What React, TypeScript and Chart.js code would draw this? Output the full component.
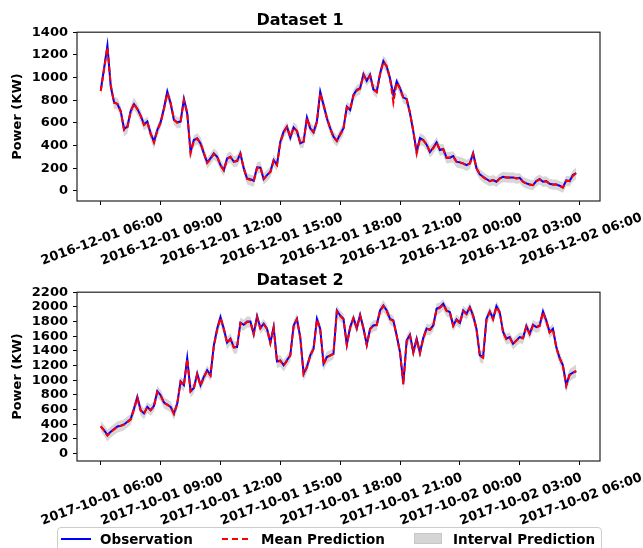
import React, { useEffect, useRef } from "react";
import { Chart, registerables } from "chart.js";

Chart.register(...registerables);

const FONT = "'DejaVu Sans', 'Liberation Sans', sans-serif";

// 10-minute steps, hours counted from 00:00 of the first day
const times = Array.from({ length: 144 }, (_, i) => 6 + i / 6);

const tickHours = [6, 9, 12, 15, 18, 21, 24, 27, 30];
const tickLabels1 = [
  "2016-12-01 06:00", "2016-12-01 09:00", "2016-12-01 12:00", "2016-12-01 15:00",
  "2016-12-01 18:00", "2016-12-01 21:00", "2016-12-02 00:00", "2016-12-02 03:00",
  "2016-12-02 06:00",
];
const tickLabels2 = [
  "2017-10-01 06:00", "2017-10-01 09:00", "2017-10-01 12:00", "2017-10-01 15:00",
  "2017-10-01 18:00", "2017-10-01 21:00", "2017-10-02 00:00", "2017-10-02 03:00",
  "2017-10-02 06:00",
];

const obs1 = [
  891, 1083, 1283, 920, 782, 764, 705, 546, 566, 705,
  764, 723, 664, 587, 611, 507, 434, 537, 605, 729,
  876, 773, 625, 605, 611, 811, 684, 345, 448, 463,
  419, 330, 251, 286, 330, 301, 227, 183, 286, 301,
  257, 263, 330, 198, 109, 103, 89, 208, 205, 103,
  139, 168, 271, 230, 434, 522, 566, 469, 560, 528,
  419, 434, 646, 552, 516, 611, 876, 758, 640, 552,
  478, 440, 499, 552, 743, 714, 847, 891, 906, 1030,
  971, 1024, 894, 876, 1036, 1146, 1096, 994, 847, 965,
  906, 823, 811, 684, 522, 345, 466, 449, 407, 342,
  381, 428, 360, 369, 292, 292, 307, 257, 251, 242,
  227, 242, 331, 198, 145, 124, 104, 86, 95, 80,
  110, 124, 118, 118, 118, 110, 115, 80, 65, 56,
  50, 86, 104, 80, 86, 62, 56, 56, 45, 30,
  92, 86, 139, 157,
];
const pred1 = [
  880, 1075, 1265, 935, 775, 770, 700, 535, 560, 700,
  770, 720, 660, 580, 605, 500, 425, 530, 600, 720,
  860, 780, 630, 600, 605, 800, 690, 330, 440, 460,
  425, 335, 245, 280, 325, 300, 225, 180, 280, 300,
  255, 265, 325, 200, 105, 95, 85, 200, 210, 105,
  135, 165, 265, 225, 425, 515, 560, 475, 555, 530,
  425, 430, 640, 555, 520, 605, 860, 760, 645, 550,
  475, 440, 495, 545, 735, 715, 840, 885, 900, 1020,
  975, 1015, 900, 870, 1030, 1140, 1100, 990, 780, 955,
  900, 820, 805, 690, 530, 330, 455, 445, 410, 345,
  375, 425, 360, 365, 290, 295, 300, 255, 250, 240,
  225, 240, 325, 200, 145, 120, 100, 85, 95, 78,
  108, 120, 118, 116, 118, 108, 112, 78, 65, 55,
  50, 84, 100, 78, 84, 60, 55, 55, 42, 28,
  88, 84, 132, 155,
];
const halfWidth1 = [
  60, 65, 70, 65, 55, 50, 50, 55, 55, 50,
  55, 50, 50, 50, 50, 50, 55, 50, 50, 50,
  55, 50, 50, 50, 50, 55, 55, 55, 50, 50,
  50, 50, 50, 50, 50, 50, 50, 50, 50, 50,
  50, 50, 50, 50, 50, 50, 50, 50, 50, 50,
  50, 50, 50, 50, 50, 50, 50, 50, 50, 50,
  50, 50, 50, 50, 50, 50, 55, 50, 50, 50,
  50, 50, 50, 50, 50, 50, 50, 50, 50, 50,
  50, 50, 50, 50, 50, 55, 55, 50, 55, 50,
  50, 50, 50, 50, 55, 60, 55, 50, 50, 50,
  50, 50, 50, 50, 50, 50, 50, 50, 50, 50,
  50, 50, 50, 50, 45, 45, 45, 45, 45, 45,
  45, 45, 45, 45, 45, 45, 45, 45, 45, 45,
  45, 45, 45, 45, 45, 45, 45, 45, 45, 45,
  45, 45, 50, 50,
];

const obs2 = [
  367, 321, 254, 299, 335, 371, 380, 398, 435, 471,
  616, 774, 593, 548, 638, 593, 652, 851, 797, 697,
  670, 638, 548, 684, 987, 933, 1304, 851, 896, 1091,
  933, 1046, 1136, 1068, 1476, 1702, 1861, 1702, 1512, 1566,
  1453, 1453, 1784, 1756, 1802, 1800, 1634, 1874, 1711, 1770,
  1702, 1512, 1725, 1258, 1272, 1204, 1272, 1340, 1747, 1838,
  1589, 1091, 1182, 1340, 1430, 1838, 1702, 1227, 1317, 1340,
  1363, 1951, 1883, 1838, 1485, 1725, 1847, 1711, 1892, 1711,
  1485, 1702, 1747, 1756, 1951, 2019, 1951, 1838, 1815, 1612,
  1385, 955, 1544, 1621, 1385, 1566, 1375, 1578, 1706, 1690,
  1747, 1974, 1996, 2042, 1951, 1928, 1747, 1829, 1784, 1951,
  1906, 1996, 1883, 1702, 1340, 1317, 1838, 1938, 1838, 2010,
  1928, 1657, 1566, 1589, 1498, 1544, 1589, 1575, 1738, 1634,
  1756, 1725, 1747, 1938, 1815, 1657, 1702, 1453, 1304, 1204,
  933, 1077, 1105, 1123,
];
const pred2 = [
  375, 315, 245, 295, 330, 365, 378, 395, 430, 465,
  605, 760, 590, 545, 630, 590, 645, 840, 795, 690,
  665, 635, 540, 675, 975, 925, 1290, 845, 890, 1080,
  925, 1040, 1125, 1060, 1460, 1690, 1850, 1700, 1505, 1560,
  1445, 1450, 1775, 1750, 1795, 1795, 1625, 1860, 1705, 1760,
  1700, 1505, 1720, 1250, 1265, 1200, 1265, 1335, 1735, 1830,
  1580, 1080, 1175, 1335, 1425, 1825, 1700, 1215, 1310, 1335,
  1360, 1940, 1875, 1830, 1480, 1715, 1840, 1705, 1880, 1705,
  1480, 1695, 1740, 1750, 1940, 2010, 1945, 1830, 1805, 1605,
  1375, 945, 1530, 1610, 1375, 1555, 1370, 1570, 1700, 1685,
  1740, 1965, 1985, 2030, 1945, 1920, 1740, 1820, 1775, 1940,
  1900, 1985, 1875, 1695, 1330, 1305, 1825, 1930, 1830, 2000,
  1920, 1650, 1560, 1580, 1490, 1540, 1580, 1570, 1730, 1630,
  1745, 1720, 1740, 1925, 1805, 1650, 1695, 1445, 1300, 1195,
  925, 1070, 1100, 1130,
];
const halfWidth2 = [
  70, 75, 80, 75, 75, 75, 75, 75, 75, 75,
  80, 80, 75, 75, 75, 75, 75, 80, 75, 75,
  75, 75, 80, 75, 80, 80, 85, 80, 75, 75,
  75, 75, 75, 75, 80, 80, 85, 80, 85, 80,
  85, 85, 80, 75, 75, 75, 80, 80, 75, 75,
  75, 80, 75, 85, 80, 80, 75, 75, 80, 80,
  80, 85, 80, 75, 75, 80, 80, 85, 80, 75,
  75, 80, 75, 75, 80, 75, 75, 75, 75, 75,
  80, 75, 75, 75, 80, 80, 75, 75, 75, 75,
  80, 95, 85, 80, 80, 80, 80, 75, 75, 75,
  75, 80, 75, 75, 75, 75, 75, 75, 75, 75,
  75, 75, 75, 80, 85, 85, 80, 75, 75, 75,
  75, 75, 75, 75, 75, 75, 75, 75, 75, 75,
  75, 75, 75, 80, 75, 75, 75, 80, 80, 80,
  95, 85, 85, 85,
];

const frameBox = {
  id: "frameBox",
  afterDraw(chart: any) {
    const { ctx, chartArea } = chart;
    ctx.save();
    ctx.strokeStyle = "#222";
    ctx.lineWidth = 1.2;
    ctx.strokeRect(chartArea.left, chartArea.top, chartArea.right - chartArea.left, chartArea.bottom - chartArea.top);
    ctx.restore();
  },
};

type PowerChartProps = {
  title: string;
  obs: number[];
  pred: number[];
  halfWidth: number[];
  yMin: number;
  yMax: number;
  tickLabels: string[];
  top: number;
};

function PowerChart({ title, obs, pred, halfWidth, yMin, yMax, tickLabels, top }: PowerChartProps) {
  const ref = useRef<HTMLCanvasElement | null>(null);
  useEffect(() => {
    if (!ref.current) return;
    const first = times[0];
    const last = times[times.length - 1];
    const span = last - first;
    const xMin = first - span * 0.05;
    const xMax = last + span * 0.05;
    const pts = (arr: number[]) => arr.map((v, i) => ({ x: times[i], y: v }));
    const upper = pred.map((v, i) => ({ x: times[i], y: v + halfWidth[i] }));
    const lower = pred.map((v, i) => ({ x: times[i], y: v - halfWidth[i] }));
    const tickFont = { family: FONT, size: 13, weight: "bold" as const };
    const chart = new Chart(ref.current, {
      type: "line",
      data: {
        datasets: [
          {
            label: "Mean Prediction",
            data: pts(pred),
            borderColor: "#ff0000",
            borderWidth: 2,
            borderDash: [6, 3],
            pointRadius: 0,
            fill: false,
            tension: 0,
          },
          {
            label: "Observation",
            data: pts(obs),
            borderColor: "#0000ff",
            borderWidth: 2,
            pointRadius: 0,
            fill: false,
            tension: 0,
          },
          {
            label: "Interval upper",
            data: upper,
            borderWidth: 0,
            borderColor: "rgba(0,0,0,0)",
            backgroundColor: "rgba(128,128,128,0.32)",
            pointRadius: 0,
            fill: "+1",
            tension: 0,
          },
          {
            label: "Interval lower",
            data: lower,
            borderWidth: 0,
            borderColor: "rgba(0,0,0,0)",
            pointRadius: 0,
            fill: false,
            tension: 0,
          },
        ],
      },
      options: {
        animation: false,
        responsive: false,
        devicePixelRatio: 1,
        events: [],
        layout: { padding: { left: 0, right: 43, top: 0, bottom: 0 } },
        plugins: {
          legend: { display: false },
          tooltip: { enabled: false },
          title: {
            display: true,
            text: title,
            color: "#000",
            font: { family: FONT, size: 16, weight: "bold" },
            padding: { top: 11, bottom: 2 },
          },
        },
        scales: {
          x: {
            type: "linear",
            min: xMin,
            max: xMax,
            border: { display: false },
            grid: { drawOnChartArea: false, drawTicks: true, tickLength: 4, color: "#000", lineWidth: 1 },
            ticks: {
              stepSize: 3,
              autoSkip: false,
              includeBounds: false,
              minRotation: 20,
              maxRotation: 20,
              labelOffset: 62,
              padding: 5,
              color: "#000",
              font: tickFont,
              callback: (v: any) => {
                const k = tickHours.indexOf(Math.round(Number(v) * 1000) / 1000);
                return k >= 0 ? tickLabels[k] : "";
              },
            },
            afterFit: (s: any) => {
              s.height = 67;
              s.paddingLeft = 0;
              s.paddingRight = 0;
            },
          },
          y: {
            min: yMin,
            max: yMax,
            border: { display: false },
            grid: { drawOnChartArea: false, drawTicks: true, tickLength: 4, color: "#000", lineWidth: 1 },
            ticks: {
              stepSize: 200,
              autoSkip: false,
              includeBounds: false,
              padding: 5,
              color: "#000",
              font: tickFont,
              callback: (v: any) => String(Math.round(Number(v))),
            },
            title: {
              display: true,
              text: "Power (KW)",
              color: "#000",
              font: { family: FONT, size: 13, weight: "bold" },
              padding: { top: 10, bottom: 0 },
            },
            afterFit: (s: any) => {
              s.width = 77;
            },
          },
        },
      },
      plugins: [frameBox],
    });
    return () => chart.destroy();
  }, []);
  return (
    <canvas
      ref={ref}
      width={643}
      height={268}
      style={{ position: "absolute", left: 0, top, width: 643, height: 268, display: "block" }}
    />
  );
}

const legendText: React.CSSProperties = {
  position: "absolute",
  fontFamily: FONT,
  fontWeight: "bold",
  fontSize: 13.5,
  lineHeight: "16px",
  color: "#000",
  whiteSpace: "nowrap",
};

export default function App() {
  return (
    <div
      style={{
        position: "absolute",
        left: 0,
        top: 0,
        width: 643,
        height: 548,
        overflow: "hidden",
        background: "#fff",
      }}
    >
      <PowerChart
        title="Dataset 1"
        obs={obs1}
        pred={pred1}
        halfWidth={halfWidth1}
        yMin={-90}
        yMax={1400}
        tickLabels={tickLabels1}
        top={0}
      />
      <PowerChart
        title="Dataset 2"
        obs={obs2}
        pred={pred2}
        halfWidth={halfWidth2}
        yMin={-100}
        yMax={2200}
        tickLabels={tickLabels2}
        top={260}
      />
      <div
        style={{
          position: "absolute",
          left: 57,
          top: 527,
          width: 545,
          height: 32,
          border: "1px solid #cccccc",
          borderRadius: 4,
          background: "rgba(255,255,255,0.8)",
          boxSizing: "border-box",
        }}
      />
      <div style={{ position: "absolute", left: 61, top: 538, width: 30, height: 2, background: "#0000ff" }} />
      <div style={{ ...legendText, left: 100, top: 531 }}>Observation</div>
      <div
        style={{
          position: "absolute",
          left: 222,
          top: 538,
          width: 26,
          height: 2,
          background: "repeating-linear-gradient(to right, #ff0000 0px, #ff0000 6px, transparent 6px, transparent 10px)",
        }}
      />
      <div style={{ ...legendText, left: 261, top: 531 }}>Mean Prediction</div>
      <div
        style={{
          position: "absolute",
          left: 414,
          top: 533,
          width: 28,
          height: 11,
          background: "#d5d5d5",
          border: "1px solid #c6c6c6",
          boxSizing: "border-box",
        }}
      />
      <div style={{ ...legendText, left: 453, top: 531 }}>Interval Prediction</div>
    </div>
  );
}
